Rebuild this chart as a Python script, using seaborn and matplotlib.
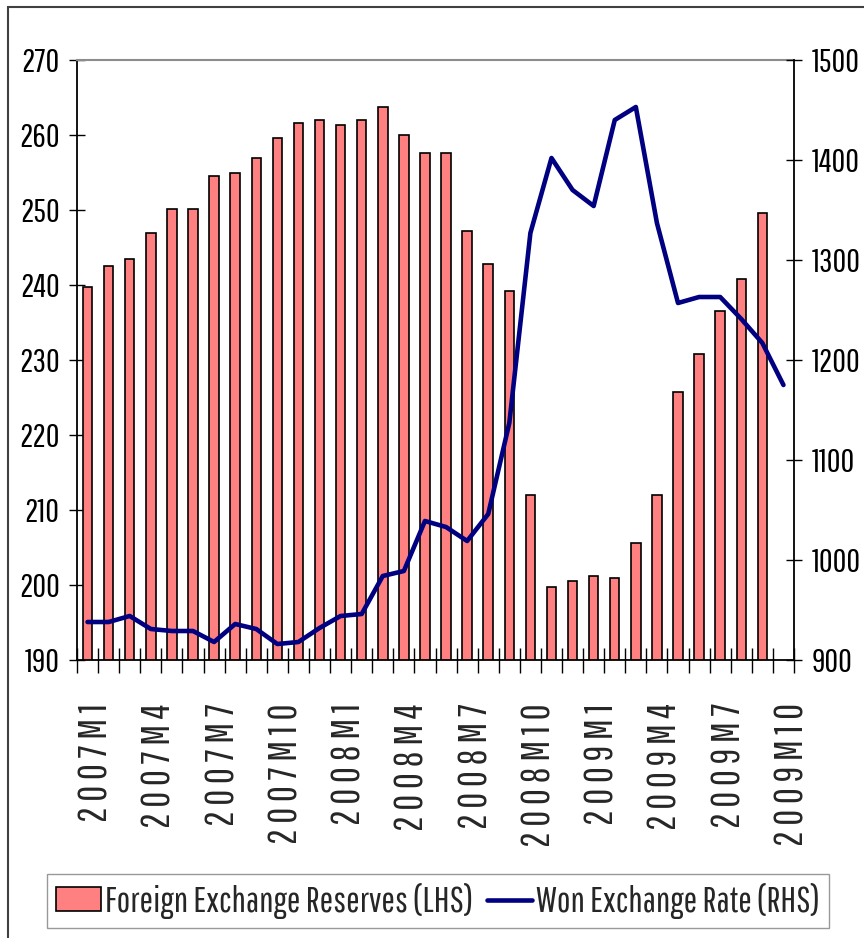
import numpy as np
import pandas as pd
import matplotlib
matplotlib.use("Agg")
import matplotlib.pyplot as plt
import matplotlib.transforms as mtransforms
from matplotlib.patches import Rectangle
import seaborn as sns

# Monthly data, 2007M1 .. 2009M10
months = [f"{y}M{m}" for y in (2007, 2008, 2009) for m in range(1, 13)][:34]

# Foreign exchange reserves, bn USD (LHS) - no bar for 2009M10
reserves = [239.8, 242.5, 243.5, 246.9, 250.2, 250.2, 254.6, 254.9, 256.9, 259.6,
            261.6, 262.0, 261.3, 262.0, 263.7, 260.0, 257.6, 257.6, 247.2, 242.8,
            239.2, 212.0, 199.8, 200.5, 201.2, 200.9, 205.6, 212.0, 225.7, 230.8,
            236.5, 240.8, 249.6, np.nan]

# Won / USD exchange rate (RHS)
won_rate = [938, 938, 944, 931, 929, 929, 918, 936, 931, 916,
            918, 932, 944, 946, 984, 989, 1039, 1033, 1019, 1046,
            1137, 1327, 1402, 1370, 1354, 1440, 1453, 1337, 1257, 1263,
            1263, 1241, 1217, 1175]

tick_every = 3
left_ticks = [190, 200, 210, 220, 230, 240, 250, 260, 270]
right_ticks = [900, 1000, 1100, 1200, 1300, 1400, 1500]

df = pd.DataFrame({"month": months, "reserves": reserves, "won": won_rate})
df["pos"] = np.arange(len(df))

sns.set_theme(style="white")
plt.rcParams["font.family"] = ["Pathway Gothic One", "DejaVu Sans"]

fig = plt.figure(figsize=(8.64, 9.38), dpi=100)
ax = fig.add_axes([77 / 864, 1 - 660 / 938, 717 / 864, 600 / 938])

sns.barplot(data=df, x="month", y="reserves", order=months, ax=ax,
            color="#FF8080", saturation=1, width=0.45, errorbar=None,
            edgecolor="black", linewidth=1.2,
            label="Foreign Exchange Reserves (LHS)")

ax2 = ax.twinx()
sns.lineplot(data=df, x="pos", y="won", ax=ax2, color="#000080",
             linewidth=3.3, label="Won Exchange Rate (RHS)", legend=False)

ax.set_ylim(190, 270)
ax2.set_ylim(900, 1500)
ax.set_xlim(-0.5, len(months) - 0.5)
ax.set_xlabel("")
ax.set_ylabel("")
ax2.set_ylabel("")
ax2.set_xlabel("")

ax.set_yticks(left_ticks)
ax.set_yticklabels([str(t) for t in left_ticks])
ax2.set_yticks(right_ticks)
ax2.set_yticklabels([str(t) for t in right_ticks])

# category boundaries get the tick marks, every 3rd month gets a label
ax.set_xticks(np.arange(-0.5, len(months), 1), minor=True)
lab_pos = np.arange(0, len(months), tick_every)
ax.set_xticks(lab_pos)
ax.set_xticklabels([" ".join(months[i]) for i in lab_pos],
                   rotation=90, ha="center", va="top", fontsize=28)
ax.tick_params(axis="x", which="major", length=0, pad=31)
ax.tick_params(axis="x", which="minor", direction="inout", length=18,
               width=1.0, color="black", bottom=True)
shift = mtransforms.ScaledTranslation(9 / 100, 0, fig.dpi_scale_trans)
for lab in ax.get_xticklabels():
    lab.set_transform(lab.get_transform() + shift)

ax.tick_params(axis="y", direction="inout", length=11, width=1.0,
               labelsize=24, pad=7, left=True, colors="black")
ax2.tick_params(axis="y", direction="inout", length=11, width=1.0,
                labelsize=24, pad=7.5, right=True, colors="black")

for s in ["left", "bottom"]:
    ax.spines[s].set_color("black")
    ax.spines[s].set_linewidth(1.3)
ax.spines["right"].set_visible(False)
ax.spines["top"].set_color("#8c8c8c")
ax.spines["top"].set_linewidth(1.5)
for s in ["left", "bottom", "top"]:
    ax2.spines[s].set_visible(False)
ax2.spines["right"].set_color("black")
ax2.spines["right"].set_linewidth(1.3)

# legend below the plot
h1, l1 = ax.get_legend_handles_labels()
h2, l2 = ax2.get_legend_handles_labels()
if ax.get_legend() is not None:
    ax.get_legend().remove()
leg = fig.legend(h1[:1] + h2, l1[:1] + l2, loc="center",
                 bbox_to_anchor=(438 / 864, 1 - 901 / 938), ncol=2,
                 fontsize=26, frameon=True, fancybox=False, edgecolor="#808080",
                 handlelength=1.25, handleheight=0.65, handletextpad=0.12,
                 columnspacing=0.36, borderpad=0.25, borderaxespad=0)
leg.get_frame().set_linewidth(1.0)

# outer chart frame
fig.add_artist(Rectangle((8 / 864, -0.5), 2, 1.5 - 7 / 938, transform=fig.transFigure,
                         fill=False, edgecolor="#404040", linewidth=1.5))

fig.savefig("out.png", dpi=100, facecolor="white")
